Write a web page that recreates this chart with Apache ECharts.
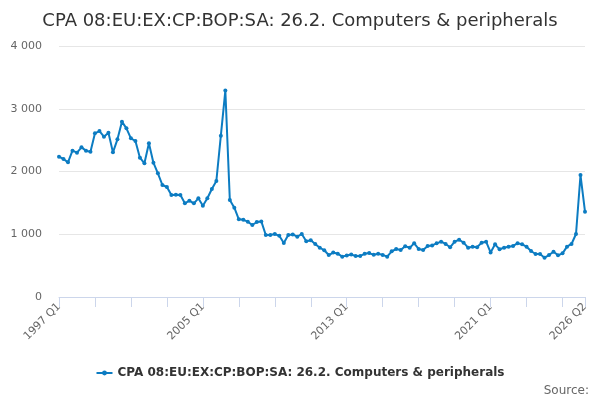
<!DOCTYPE html>
<html>
<head>
<meta charset="utf-8">
<script src="https://cdn.jsdelivr.net/npm/echarts@6/dist/echarts.min.js"></script>
<style>
html,body{margin:0;padding:0;background:#fff;}
#chart{width:600px;height:400px;}
</style>
</head>
<body>
<div id="chart"></div>
<script>
const seriesName = 'CPA 08:EU:EX:CP:BOP:SA: 26.2. Computers & peripherals';
const startYear = 1997;
const endYear = 2026;
const endQuarter = 2;
const values1997_2006 = [
  2236, 2199, 2146, 2332,
  2300, 2385, 2332, 2316,
  2608, 2645, 2555, 2619,
  2305, 2513, 2794, 2688,
  2529, 2486, 2220, 2130,
  2449, 2140, 1971, 1785,
  1753, 1625, 1630, 1625,
  1493, 1535, 1493, 1573,
  1455, 1573, 1721, 1849,
  2571, 3290, 1546, 1424
];
const values2007_2016 = [
  1238, 1230, 1200, 1147,
  1195, 1205, 988, 988,
  1004, 975, 860, 988,
  997, 961, 1004, 887,
  905, 845, 785, 745,
  669, 708, 690, 643,
  660, 676, 653, 655,
  688, 700, 672, 688,
  671, 643, 728, 765,
  749, 810, 785, 855
];
const values2017_2026 = [
  765, 749, 813, 822,
  855, 882, 845, 792,
  882, 912, 866, 786,
  802, 792, 866, 882,
  710, 839, 760, 786,
  802, 813, 855, 839,
  802, 733, 685, 685,
  627, 669, 722, 664,
  696, 802, 845, 1004,
  1944, 1360
];
const yTicks = [0, 1000, 2000, 3000, 4000];

const values = values1997_2006.concat(values2007_2016, values2017_2026);
const categories = [];
for (let y = startYear; y <= endYear; y++) {
  for (let q = 1; q <= 4; q++) {
    if (y === endYear && q > endQuarter) break;
    categories.push(y + ' Q' + q);
  }
}
const lastIdx = categories.length - 1;
const fmt = v => String(v).replace(/\B(?=(\d{3})+(?!\d))/g, ' ');
const font = '"DejaVu Sans", sans-serif';

const chart = echarts.init(document.getElementById('chart'), null, {renderer: 'canvas'});
chart.setOption({
  animation: false,
  backgroundColor: '#ffffff',
  title: {
    text: seriesName,
    left: 'center',
    top: 7,
    textStyle: {fontFamily: font, fontSize: 18, fontWeight: 'normal', color: '#333333'}
  },
  legend: {
    bottom: 16,
    left: 'center',
    itemWidth: 16,
    itemHeight: 6,
    textStyle: {fontFamily: font, fontSize: 12, fontWeight: 'bold', color: '#333333'},
    data: [seriesName]
  },
  graphic: [{
    type: 'text',
    right: 11,
    bottom: 3,
    style: {text: 'Source:', fontFamily: font, fontSize: 12, fill: '#666666'}
  }],
  grid: {left: 59, right: 15, top: 46, bottom: 103, containLabel: false},
  xAxis: {
    type: 'category',
    data: categories,
    boundaryGap: false,
    axisLine: {lineStyle: {color: '#ccd6eb', width: 1}},
    axisTick: {
      show: true, length: 10, lineStyle: {color: '#ccd6eb'},
      interval: (i) => i % 8 === 0 || i === lastIdx
    },
    axisLabel: {
      rotate: 45, fontFamily: font, fontSize: 11, color: '#666666', margin: 8,
      interval: (i) => i % 32 === 0 || i === lastIdx
    },
    splitLine: {show: false}
  },
  yAxis: {
    type: 'value',
    min: yTicks[0],
    max: yTicks[yTicks.length - 1],
    interval: yTicks[1] - yTicks[0],
    axisLine: {show: false},
    axisTick: {show: false},
    axisLabel: {fontFamily: font, fontSize: 11, color: '#666666', margin: 17, formatter: fmt},
    splitLine: {lineStyle: {color: '#e6e6e6', width: 1}}
  },
  series: [{
    name: seriesName,
    type: 'line',
    data: values,
    color: '#0c7cc2',
    lineStyle: {width: 2},
    symbol: 'circle',
    symbolSize: 4,
    showSymbol: true,
    showAllSymbol: true,
    itemStyle: {color: '#0c7cc2'}
  }]
});
</script>
</body>
</html>
